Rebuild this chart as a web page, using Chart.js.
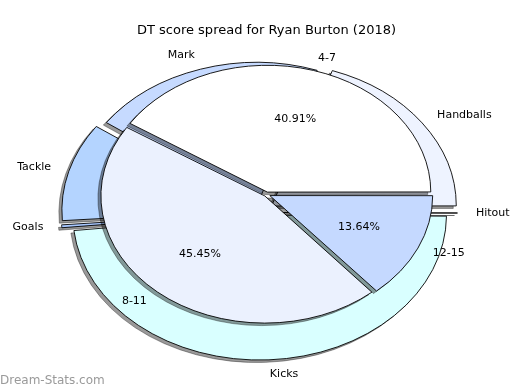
<!DOCTYPE html>
<html>
<head>
<meta charset="utf-8">
<script src="https://cdn.jsdelivr.net/npm/chart.js@4.4.1/dist/chart.umd.min.js"></script>
<style>
  body { margin: 0; background: #fff; }
  #wrap { position: relative; width: 520px; height: 390px; overflow: hidden; }
  #wrap canvas { position: absolute; left: 0; top: 0; }
  #mark { position: absolute; left: 0; top: 373px; font: 12px 'DejaVu Sans', sans-serif; line-height: 14px; color: #9a9a9a; }
</style>
</head>
<body>
<div id="wrap">
  <canvas id="outer" width="520" height="390"></canvas>
  <canvas id="inner" width="520" height="390"></canvas>
  <div id="mark">Dream-Stats.com</div>
</div>
<script>
const titleText = 'DT score spread for Ryan Burton (2018)';

// outer pie: DT points by stat type
const statLabels = ['Handballs', 'Mark', 'Tackle', 'Goals', 'Kicks', 'Hitout'];
const statPoints = [236, 246, 132, 6, 579, 1];

// inner pie: games per score band
const bandLabels = ['4-7', '8-11', '12-15'];
const bandGames = [9, 10, 3];

// styling
const statColors = ['#eef3ff', '#c6daff', '#b4d4ff', '#a8c8ff', '#d9ffff', '#dde8ff'];
const bandColors = ['#ffffff', '#ebf1fe', '#c5d9ff'];
const statExplode = [15.5, 10, 14, 14.6, 6, 14];
const bandExplode = [4.5, 4.5, 4.5];
const squash = 0.776;   // pies are drawn as ellipses
const fontFamily = "'DejaVu Sans', 'Liberation Sans', sans-serif";

// chart.js draws clockwise from the top, matplotlib-style is counter-clockwise from 3 o'clock
const rev = arr => arr.slice().reverse();

// arc offset is applied as offset/4*(2 - sin(circ)), so undo that to get a fixed push
function explodeOffset(explode) {
  return (c) => {
    const data = c.dataset.data;
    const total = data.reduce((a, b) => a + b, 0);
    const circ = data[c.dataIndex] / total * Math.PI * 2;
    return 4 * explode[c.dataIndex] / (2 - Math.sin(Math.min(Math.PI, circ)));
  };
}

function squashAround(ctx, a) {
  ctx.translate(a.x, a.y);
  ctx.scale(1, squash);
  ctx.translate(-a.x, -a.y);
}

function pieDecor(explode, labels, showPct) {
  return {
    id: 'pieDecor',
    beforeDatasetsDraw(chart) {
      const arcs = chart.getDatasetMeta(0).data;
      const ctx = chart.ctx;
      // shadow pass: draw the wedges far off canvas so only their shadows land
      const far = 3000;
      ctx.save();
      ctx.shadowColor = 'rgba(0, 0, 0, 0.4)';
      ctx.shadowOffsetX = far - 3;
      ctx.shadowOffsetY = 2.5;
      ctx.shadowBlur = 0;
      ctx.translate(-far, 0);
      squashAround(ctx, arcs[0]);
      arcs.forEach(a => a.draw(ctx));
      ctx.restore();
      // real wedges
      ctx.save();
      squashAround(ctx, arcs[0]);
    },
    afterDatasetsDraw(chart) {
      const ctx = chart.ctx;
      ctx.restore();
      const meta = chart.getDatasetMeta(0);
      const data = chart.data.datasets[0].data;
      const total = data.reduce((a, b) => a + b, 0);
      ctx.save();
      ctx.font = '11px ' + fontFamily;
      ctx.fillStyle = '#000';
      ctx.textBaseline = 'middle';
      meta.data.forEach((a, i) => {
        const mid = (a.startAngle + a.endAngle) / 2;
        const cos = Math.cos(mid), sin = Math.sin(mid);
        const lr = 1.1 * a.outerRadius + explode[i];
        ctx.textAlign = cos > 0 ? 'left' : 'right';
        ctx.fillText(labels[i], a.x + cos * lr, a.y + sin * lr * squash);
        if (showPct) {
          const pr = 0.6 * a.outerRadius + explode[i];
          ctx.textAlign = 'center';
          ctx.fillText((data[i] / total * 100).toFixed(2) + '%', a.x + cos * pr, a.y + sin * pr * squash);
        }
      });
      ctx.restore();
    }
  };
}

const baseOptions = {
  responsive: false,
  animation: false,
  events: [],
  rotation: 90,
  plugins: {
    legend: { display: false },
    tooltip: { enabled: false }
  }
};

// Outer pie (stat types)
new Chart(document.getElementById('outer'), {
  type: 'pie',
  data: {
    labels: rev(statLabels),
    datasets: [{
      data: rev(statPoints),
      backgroundColor: rev(statColors),
      borderColor: '#000',
      borderWidth: 1,
      offset: explodeOffset(rev(statExplode)),
      clip: false
    }]
  },
  options: {
    ...baseOptions,
    radius: 184,
    layout: { padding: { left: 0, right: 1, top: 35.2, bottom: 0 } }
  },
  plugins: [pieDecor(rev(statExplode), rev(statLabels), false)]
});

// Inner pie (score bands)
new Chart(document.getElementById('inner'), {
  type: 'pie',
  data: {
    labels: rev(bandLabels),
    datasets: [{
      data: rev(bandGames),
      backgroundColor: rev(bandColors),
      borderColor: '#000',
      borderWidth: 1,
      offset: explodeOffset(rev(bandExplode)),
      clip: false
    }]
  },
  options: {
    ...baseOptions,
    radius: 162,
    layout: { padding: { left: 13, right: 0, top: 0, bottom: 39.8 } },
    plugins: {
      ...baseOptions.plugins,
      title: {
        display: true,
        text: titleText,
        color: '#000',
        font: { family: fontFamily, size: 13, weight: 'normal', lineHeight: 1.2 },
        padding: { top: 23, bottom: 0 }
      }
    }
  },
  plugins: [pieDecor(rev(bandExplode), rev(bandLabels), true)]
});
</script>
</body>
</html>
